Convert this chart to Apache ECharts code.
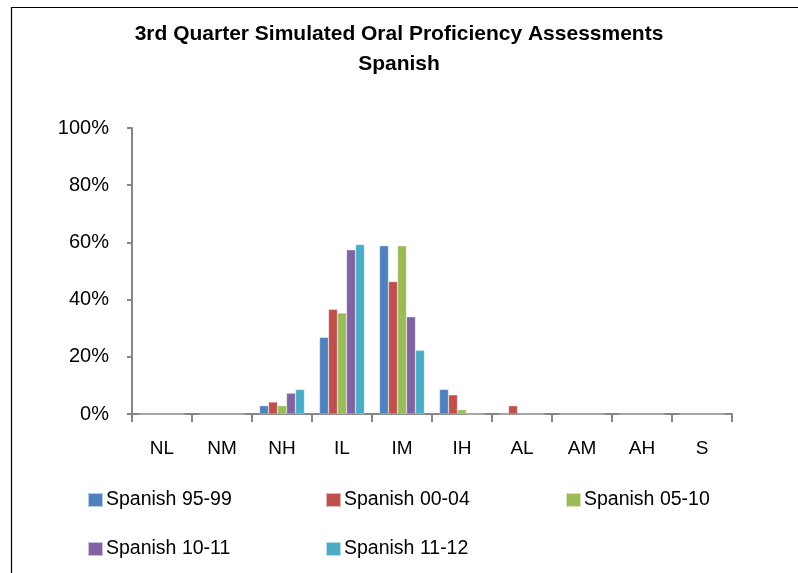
<!DOCTYPE html>
<html>
<head>
<meta charset="utf-8">
<script src="https://cdn.jsdelivr.net/npm/echarts@6/dist/echarts.min.js"></script>
<style>html,body{margin:0;padding:0;background:#fff}#c{width:798px;height:573px}</style>
</head>
<body>
<div id="c"></div>
<script>
var titleText = '3rd Quarter Simulated Oral Proficiency Assessments\nSpanish';
var categories = ['NL', 'NM', 'NH', 'IL', 'IM', 'IH', 'AL', 'AM', 'AH', 'S'];
var yTicks = [0, 20, 40, 60, 80, 100];
var seriesNames = ['Spanish 95-99', 'Spanish 00-04', 'Spanish 05-10', 'Spanish 10-11', 'Spanish 11-12'];
var s9599 = [0, 0, 2.9, 26.8, 58.8, 8.6, 0, 0, 0, 0];
var s0004 = [0, 0, 4.2, 36.6, 46.3, 6.7, 2.9, 0, 0, 0];
var s0510 = [0, 0, 2.9, 35.3, 58.8, 1.5, 0, 0, 0, 0];
var s1011 = [0, 0, 7.3, 57.4, 34.0, 0, 0, 0, 0, 0];
var s1112 = [0, 0, 8.6, 59.3, 22.3, 0, 0, 0, 0, 0];
var seriesValues = [s9599, s0004, s0510, s1011, s1112];
var colors = ['#4F81BD', '#C0504D', '#9BBB59', '#8064A2', '#4BACC6'];

var font = "'Liberation Sans', Arial, sans-serif";
var legendPos = [[87, 490], [325, 490], [565, 490], [87, 539], [325, 539]];
var legends = seriesNames.map(function (n, i) {
  return {
    data: [n], left: legendPos[i][0], top: legendPos[i][1], padding: 0,
    itemWidth: 15, itemHeight: 14, itemGap: 0, icon: 'rect',
    textStyle: { fontFamily: font, fontSize: 19.5, color: '#000', padding: [0, 0, 0, -2] },
    selectedMode: false
  };
});

var chart = echarts.init(document.getElementById('c'), null, { renderer: 'canvas' });
chart.setOption({
  animation: false,
  color: colors,
  title: {
    text: titleText, left: 'center', top: 14,
    textStyle: { fontFamily: font, fontSize: 21, fontWeight: 'bold', color: '#000', lineHeight: 30 }
  },
  graphic: [{
    type: 'rect', silent: true, z: 100,
    shape: { x: 11.5, y: 7.5, width: 800, height: 600 },
    style: { fill: 'none', stroke: '#000', lineWidth: 1.2 }
  }],
  legend: legends,
  grid: { left: 132, right: 66, top: 128, bottom: 159 },
  xAxis: {
    type: 'category', data: categories,
    axisLine: { lineStyle: { color: '#868686', width: 2 } },
    axisTick: { show: true, length: 8, lineStyle: { color: '#868686', width: 2 } },
    axisLabel: { fontFamily: font, fontSize: 19, color: '#000', margin: 25 }
  },
  yAxis: {
    type: 'value', min: 0, max: 100, interval: 20,
    axisLine: { show: true, lineStyle: { color: '#868686', width: 2 } },
    axisTick: { show: true, length: 5, lineStyle: { color: '#868686', width: 2 } },
    splitLine: { show: false },
    axisLabel: { fontFamily: font, fontSize: 20, color: '#000', margin: 23,
      formatter: function (v) { return yTicks.indexOf(v) >= 0 ? v + '%' : ''; } }
  },
  series: seriesNames.map(function (n, i) {
    return {
      name: n, type: 'bar', data: seriesValues[i],
      barGap: '0%', barCategoryGap: '25%',
      itemStyle: { color: colors[i], borderColor: 'rgba(255,255,255,0.6)', borderWidth: 0.5 }
    };
  })
});
</script>
</body>
</html>
